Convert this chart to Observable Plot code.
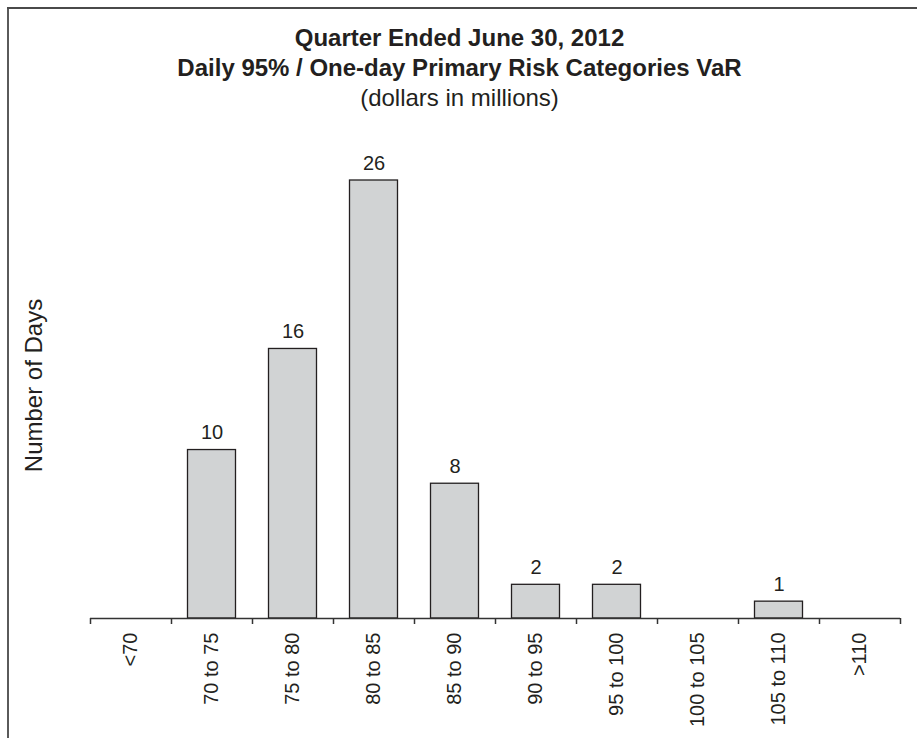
<!DOCTYPE html>
<html>
<head>
<meta charset="utf-8">
<script src="https://cdn.jsdelivr.net/npm/d3@7"></script>
<script src="https://cdn.jsdelivr.net/npm/@observablehq/plot@0.6"></script>
<style>
  body { margin: 0; background: #fff; }
  #wrap { position: relative; width: 917px; height: 738px; overflow: hidden; background: #fff;
          font-family: "Liberation Sans", Arial, Helvetica, sans-serif; color: #231f20; }
  .frameL { position: absolute; left: 7px; top: 7px; width: 2px; height: 731px; background: #5a5a5a; }
  .frameT { position: absolute; left: 7px; top: 7px; right: 0; height: 2px; background: #4a4a4a; }
  #title { position: absolute; left: 0; top: 23px; width: 919px; text-align: center;
           font-size: 24px; line-height: 30px; }
  #title .b { font-weight: bold; }
  #chart { position: absolute; left: 0; top: 120px; }
</style>
</head>
<body>
<div id="wrap">
  <div class="frameL"></div>
  <div class="frameT"></div>
  <div id="title"></div>
  <div id="chart"></div>
</div>
<script>
const titleLines = ["Quarter Ended June 30, 2012", "Daily 95% / One-day Primary Risk Categories VaR"];
const subtitle = "(dollars in millions)";
const yLabel = "Number of Days";
const categories = ["<70", "70 to 75", "75 to 80", "80 to 85", "85 to 90", "90 to 95", "95 to 100", "100 to 105", "105 to 110", ">110"];
const days = [0, 10, 16, 26, 8, 2, 2, 0, 1, 0];

const title = document.getElementById("title");
for (const t of titleLines) {
  const d = document.createElement("div"); d.className = "b"; d.textContent = t; title.appendChild(d);
}
const s = document.createElement("div"); s.textContent = subtitle; title.appendChild(s);

const data = categories.map((c, i) => ({range: c, days: days[i]}));
const shown = data.filter(d => d.days > 0);

const W = 917, H = 618, mL = 90, mR = 17, mT = 60, mB = 120;
const bw = (W - mL - mR) / categories.length;
const ink = "#231f20";

const chart = Plot.plot({
  width: W, height: H,
  marginLeft: mL, marginRight: mR, marginTop: mT, marginBottom: mB,
  style: {fontFamily: "'Liberation Sans', Arial, Helvetica, sans-serif", fontSize: "20px", color: ink, background: "transparent", overflow: "visible"},
  x: {domain: categories, padding: 0, label: null},
  y: {domain: [0, 26], axis: null},
  marks: [
    Plot.barY(shown, {x: "range", y: "days", fill: "#d1d3d4", stroke: ink, strokeWidth: 1.3, insetLeft: 16.5, insetRight: 16.5}),
    Plot.text(shown, {x: "range", y: "days", text: d => String(d.days), lineAnchor: "bottom", dy: -11, fontSize: 20, fill: ink}),
    Plot.ruleY([0], {stroke: "#333333", strokeWidth: 1.6}),
    Plot.ruleX(categories, {x: d => d, y1: 0, y2: 0, insetBottom: -6, dx: -bw / 2, stroke: "#333333", strokeWidth: 1.5}),
    Plot.ruleX(categories.slice(-1), {x: d => d, y1: 0, y2: 0, insetBottom: -6, dx: bw / 2, stroke: "#333333", strokeWidth: 1.5}),
    Plot.axisX({tickSize: 0, tickPadding: 14, tickRotate: -90, fontSize: 20, label: null, fill: ink}),
    Plot.text([yLabel], {frameAnchor: "left", textAnchor: "middle", rotate: -90, dx: -56, dy: -14, fontSize: 24, fill: ink})
  ]
});
document.getElementById("chart").appendChild(chart);
</script>
</body>
</html>
